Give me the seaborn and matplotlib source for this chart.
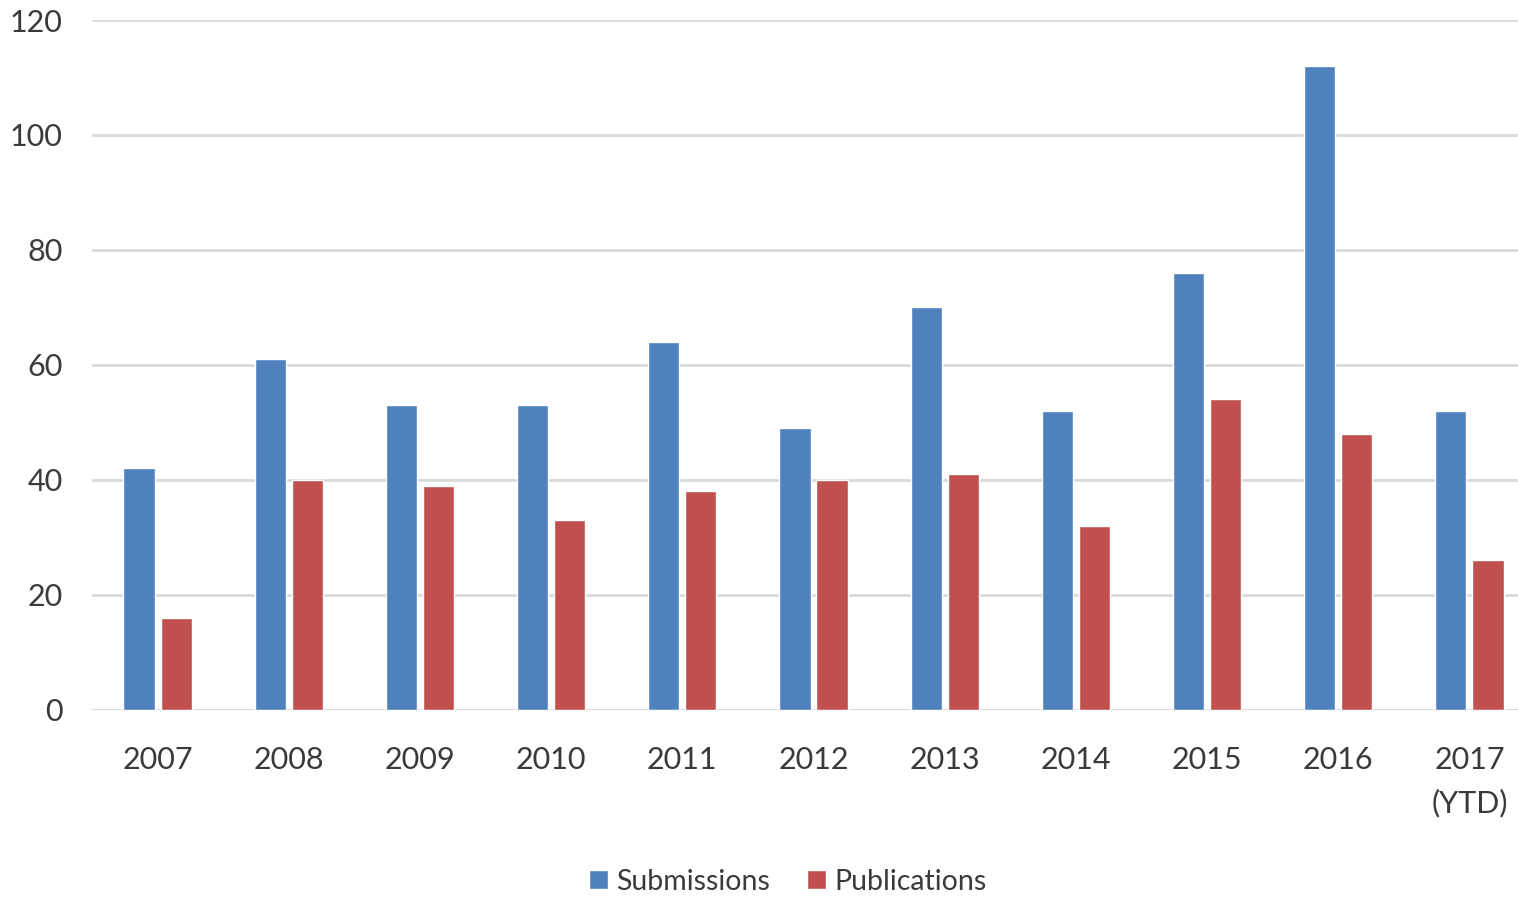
import pandas as pd
import matplotlib.pyplot as plt
import seaborn as sns

sns.set_theme(style="white")
plt.rcParams['font.family'] = ['Lato', 'DejaVu Sans']

# data
years = ['2007', '2008', '2009', '2010', '2011', '2012', '2013', '2014', '2015', '2016', '2017\n(YTD)']
submissions = [42, 61, 53, 53, 64, 49, 70, 52, 76, 112, 52]
publications = [16, 40, 39, 33, 38, 40, 41, 32, 54, 48, 26]

df = pd.DataFrame({
    'year': years * 2,
    'value': submissions + publications,
    'series': ['Submissions'] * len(years) + ['Publications'] * len(years),
})

text_color = '#3a3a3a'
palette = {'Submissions': '#4F81BD', 'Publications': '#C0504D'}

fig = plt.figure(figsize=(15.18, 8.97), dpi=100)
ax = fig.add_axes([0.0606, 0.2085, 0.9394, 0.7692])

sns.barplot(data=df, x='year', y='value', hue='series', palette=palette,
            width=0.565, gap=0.16, saturation=1, ax=ax, legend=True)

ax.set_ylim(0, 120)
ax.set_yticks(range(0, 121, 20))
ax.set_xlim(-0.5, 10.37)
ax.yaxis.grid(True, color='#D9D9D9', linewidth=2)
ax.set_axisbelow(True)
for s in ax.spines.values():
    s.set_visible(False)
ax.axhline(0, color='#D9D9D9', linewidth=2, zorder=0)
ax.set_xlabel('')
ax.set_ylabel('')
ax.tick_params(axis='both', length=0, labelsize=22, colors=text_color)
ax.tick_params(axis='x', pad=26)
ax.tick_params(axis='y', pad=21)
for lab in ax.get_xticklabels():
    lab.set_linespacing(1.6)
    lab.set_verticalalignment('top')

handles, labels = ax.get_legend_handles_labels()
ax.legend_.remove()
leg = fig.legend(handles, labels, loc='center', bbox_to_anchor=(0.519, 0.017),
                 ncol=2, frameon=False, fontsize=20.5, handlelength=0.65,
                 handleheight=0.65, handletextpad=0.3, columnspacing=1.3)
for t in leg.get_texts():
    t.set_color(text_color)

fig.savefig('out.png', dpi=100)
